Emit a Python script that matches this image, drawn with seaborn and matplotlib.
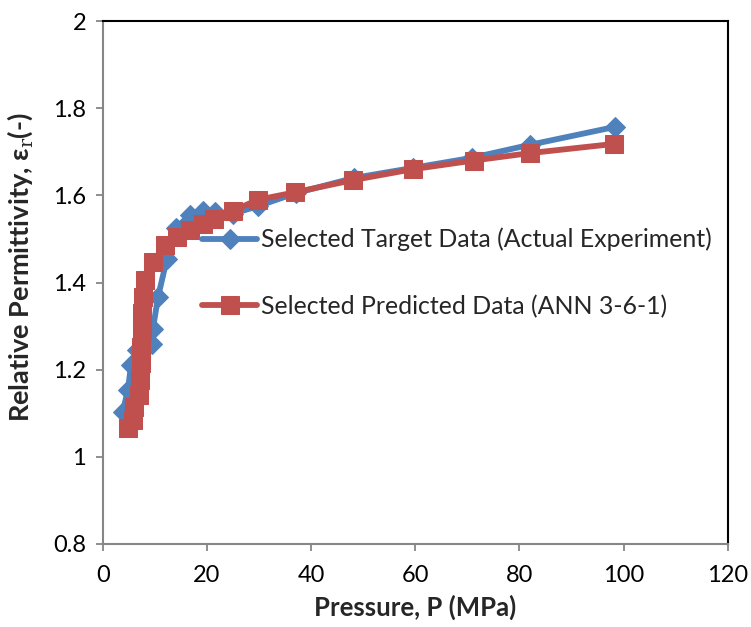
import matplotlib
matplotlib.use("Agg")
import matplotlib.pyplot as plt
import seaborn as sns
import pandas as pd

# Data
target_p = [3.8, 4.8, 5.4, 6.5, 9.4, 9.6, 10.6, 12.3, 14.0, 16.7, 19.2, 21.5, 25.0, 29.7,
            37.0, 48.2, 59.5, 70.8, 82.0, 98.3]
target_eps = [1.103, 1.153, 1.210, 1.245, 1.260, 1.293, 1.367, 1.455, 1.525, 1.555, 1.564,
              1.562, 1.558, 1.575, 1.605, 1.640, 1.663, 1.686, 1.716, 1.757]

pred_p = [4.8, 5.8, 6.0, 6.9, 7.1, 7.3, 7.3, 7.5, 7.5, 7.7, 8.1, 9.6, 11.9, 14.2, 16.7,
          19.2, 21.3, 25.0, 29.8, 36.9, 48.0, 59.5, 71.2, 82.0, 98.1]
pred_eps = [1.066, 1.085, 1.114, 1.142, 1.176, 1.215, 1.252, 1.291, 1.330, 1.367, 1.406,
            1.447, 1.486, 1.505, 1.521, 1.535, 1.546, 1.565, 1.590, 1.607, 1.635, 1.660,
            1.680, 1.697, 1.718]

label_target = "Selected Target Data (Actual Experiment)"
label_pred = "Selected Predicted Data (ANN 3-6-1)"

x_ticks = [0, 20, 40, 60, 80, 100, 120]
y_ticks = [0.8, 1.0, 1.2, 1.4, 1.6, 1.8, 2.0]
y_tick_labels = ["0.8", "1", "1.2", "1.4", "1.6", "1.8", "2"]

sns.set_style("white")
plt.rcParams['font.family'] = ['Lato', 'DejaVu Sans']
plt.rcParams['mathtext.fontset'] = 'custom'
plt.rcParams['mathtext.rm'] = 'DejaVu Serif'

df_t = pd.DataFrame({"P": target_p, "eps": target_eps})
df_p = pd.DataFrame({"P": pred_p, "eps": pred_eps})

fig = plt.figure(figsize=(7.51, 6.27), dpi=100)
ax = fig.add_axes([0.137, 0.1324, 0.832, 0.834])

blue = "#4F81BD"
red = "#C0504D"

sns.lineplot(data=df_t, x="P", y="eps", sort=False, estimator=None, ax=ax,
             color=blue, linewidth=4.2, marker="D", markersize=10,
             markeredgecolor=blue, markerfacecolor=blue, label=label_target)
sns.lineplot(data=df_p, x="P", y="eps", sort=False, estimator=None, ax=ax,
             color=red, linewidth=4.2, marker="s", markersize=13.5,
             markeredgecolor=red, markerfacecolor=red, label=label_pred)

ax.set_xlim(0, 120)
ax.set_ylim(0.8, 2.0)
ax.set_xticks(x_ticks)
ax.set_xticklabels([str(v) for v in x_ticks])
ax.set_yticks(y_ticks)
ax.set_yticklabels(y_tick_labels)
ax.tick_params(axis="both", labelsize=17, colors="#868686", labelcolor="black",
               direction="out", length=5, width=1.3, bottom=True, left=True)
ax.tick_params(axis="x", pad=10)
ax.tick_params(axis="y", pad=7)

for s in ["left", "bottom"]:
    ax.spines[s].set_color("#868686")
    ax.spines[s].set_linewidth(1.5)
for s in ["top", "right"]:
    ax.spines[s].set_color("black")
    ax.spines[s].set_linewidth(1.5)

ax.set_xlabel("Pressure, P (MPa)", fontsize=18.5, fontweight="bold")
ax.set_ylabel("Relative Permittivity, ε$_\\mathrm{r}$(-)", fontsize=19.5,
              fontweight="bold")
ax.xaxis.set_label_coords(0.5, -0.096)
ax.yaxis.set_label_coords(-0.108, 0.53)

leg = ax.legend(loc="upper left", bbox_to_anchor=(0.142, 0.624), frameon=False,
                fontsize=17.9, handlelength=2.25, handletextpad=0.16, labelspacing=1.75,
                borderaxespad=0)

fig.savefig("out.png", dpi=100)
